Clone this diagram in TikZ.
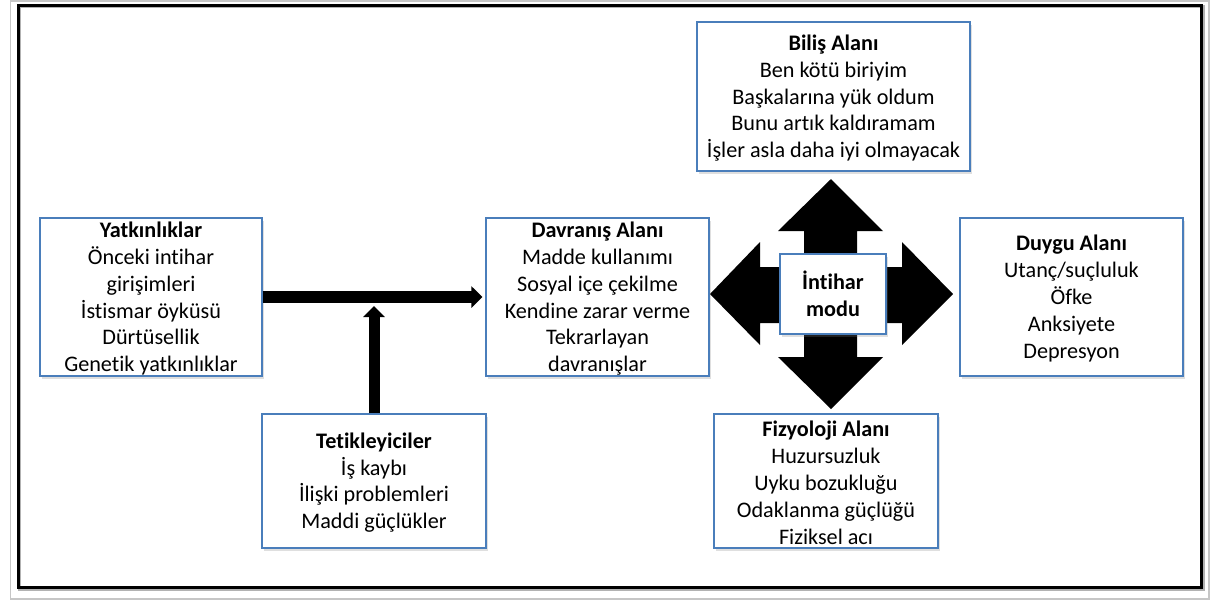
\documentclass[tikz,border=0pt]{standalone}
\usepackage{fontspec}
\setmainfont{Carlito}[Ligatures={NoCommon}]
\usetikzlibrary{arrows.meta,shadows}
\definecolor{boxblue}{HTML}{4A7EBB}
\begin{document}
\begin{tikzpicture}[x=0.5pt,y=-0.5pt,
  box/.style={draw=boxblue, line width=0.6pt, fill=white, inner sep=0pt, align=center,
    font=\fontsize{11.1}{13.45}\selectfont,
    drop shadow={opacity=0.25, shadow xshift=1.2pt, shadow yshift=-1.5pt}},
  thickarrow/.style={line width=6pt, -{Triangle[length=5.5pt,width=10.5pt]}}]
\useasboundingbox (0,0) rectangle (1211,602);
% outer frames
\draw[gray!45, line width=0.6pt] (10.5,1) rectangle (1209,599);
\draw[gray!60, line width=1.5pt] (19.5,6.5) rectangle (1203,589);
\draw[black, line width=1.5pt] (18,5) rectangle (1201,587);
% four-way arrow
\fill[black] (831,179) -- (883,231) -- (857,231) -- (857,267) -- (902,267) -- (902,242) -- (953,294)
  -- (902,345) -- (902,323) -- (857,323) -- (857,357) -- (883,357) -- (831,409) -- (778,357)
  -- (804,357) -- (804,323) -- (760,323) -- (760,345) -- (710,294) -- (760,242) -- (760,267)
  -- (804,267) -- (804,231) -- (778,231) -- cycle;
% boxes
\node[box, minimum width=136.5pt, minimum height=74.5pt] (bilis) at (833.5,96.5)
  {\strut\textbf{Biliş Alanı}\\Ben kötü biriyim\\Başkalarına yük oldum\\Bunu artık kaldıramam\\İşler asla daha iyi olmayacak};
\node[box, minimum width=111pt, minimum height=79pt] (yat) at (151,297)
  {\strut\textbf{Yatkınlıklar}\\Önceki intihar\\girişimleri\\İstismar öyküsü\\Dürtüsellik\\Genetik yatkınlıklar};
\node[box, minimum width=111.5pt, minimum height=79pt] (dav) at (597.5,297)
  {\strut\textbf{Davranış Alanı}\\Madde kullanımı\\Sosyal içe çekilme\\Kendine zarar verme\\Tekrarlayan\\davranışlar};
\node[box, minimum width=111.5pt, minimum height=79pt] (duygu) at (1071.5,297)
  {\strut\textbf{Duygu Alanı}\\Utanç/suçluluk\\Öfke\\Anksiyete\\Depresyon};
\node[box, minimum width=112pt, minimum height=67pt] (tet) at (374,481)
  {\strut\textbf{Tetikleyiciler}\\İş kaybı\\İlişki problemleri\\Maddi güçlükler};
\node[box, minimum width=112pt, minimum height=67pt] (fiz) at (826,481)
  {\strut\textbf{Fizyoloji Alanı}\\Huzursuzluk\\Uyku bozukluğu\\Odaklanma güçlüğü\\Fiziksel acı};
\node[box, drop shadow={opacity=0}, minimum width=53pt, minimum height=40pt] (mod) at (833,294)
  {\strut\textbf{İntihar}\\\textbf{modu}};
% connectors
\coordinate (join) at (374,306);
\draw[thickarrow, shorten >=1.5pt] (yat.east) -- (dav.west);
\draw[thickarrow, line width=5.5pt] (tet.north) -- (join);
\end{tikzpicture}
\end{document}
